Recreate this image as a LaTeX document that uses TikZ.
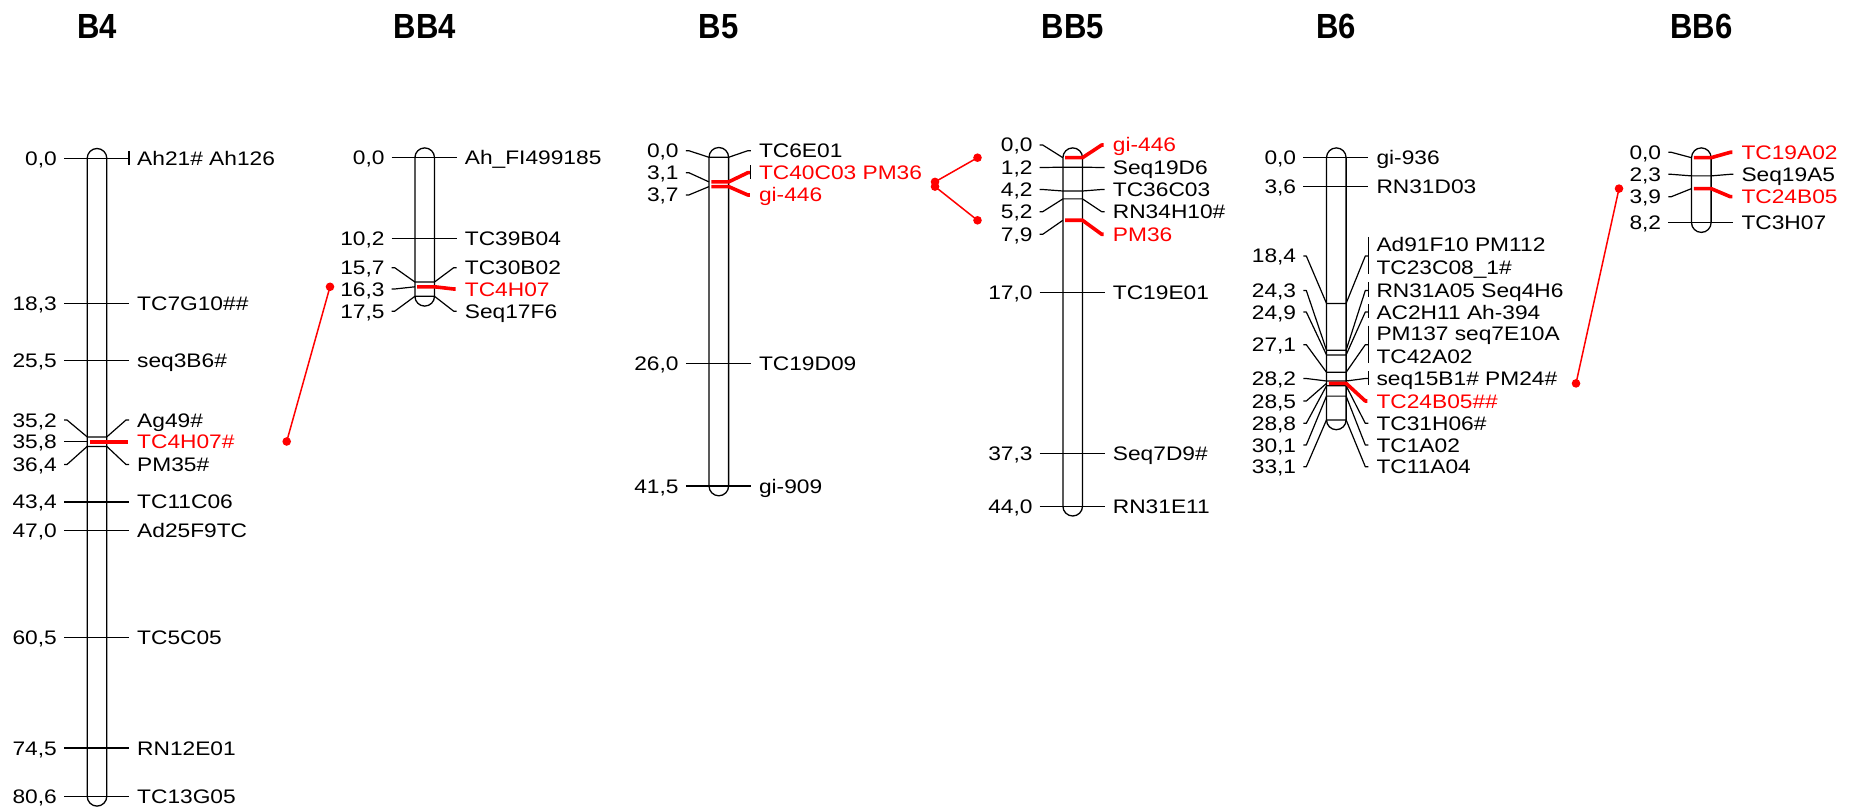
\documentclass[tikz,border=0pt]{standalone}
\usepackage{fontspec}
\setmainfont{Liberation Sans}
\newfontfamily\labfont{Liberation Sans}[FakeStretch=1.16]
\newfontfamily\ttlfont{Liberation Sans}[FakeStretch=0.89]

\tikzset{
  chromline/.style={line width=1.3pt, draw=black},
  tickline/.style={line width=1.2pt, black, line join=round},
  redmark/.style={line width=3.6pt, red, line join=round},
  linkline/.style={line width=1.5pt, red},
  numtxt/.style={anchor=base east, inner sep=0pt, font=\labfont\fontsize{19.6}{20}\selectfont},
  labtxt/.style={anchor=base west, inner sep=0pt, font=\labfont\fontsize{19.6}{20}\selectfont},
  ttltxt/.style={anchor=base, inner sep=0pt, font=\ttlfont\bfseries\fontsize{34.9}{36}\selectfont},
}

% chromosome bar: centre x, top position, bottom position
\newcommand\chromo[3]{%
  \draw[chromline, rounded corners=9.8pt] (#1-9.8,#2-9.8) rectangle (#1+9.8,#3+9.8);}
% marker: centre x, map position, label position, distance, name text, node name
\newcommand\mrk[6]{%
  \draw[tickline] (#1-33,#3) -- (#1-30,#3) -- (#1-9.8,#2) -- (#1+9.8,#2) -- (#1+29,#3) -- (#1+32,#3);
  \node[numtxt] (#6-n) at (#1-40,#3+7) {#4};
  \node[labtxt] (#6) at (#1+40,#3+7) {#5};}
% highlighted marker
\newcommand\mrkred[6]{%
  \draw[tickline] (#1-33,#3) -- (#1-30,#3) -- (#1-9.8,#2);
  \draw[redmark] (#1-7.5,#2) -- (#1+9.8,#2) -- (#1+29,#3) -- (#1+31,#3);
  \node[numtxt] (#6-n) at (#1-40,#3+7) {#4};
  \node[labtxt, text=red] (#6) at (#1+40,#3+7) {#5};}
% marker group whose names take two lines
\newcommand\mrktwo[7]{%
  \draw[tickline] (#1-33,#3) -- (#1-30,#3) -- (#1-9.8,#2) -- (#1+9.8,#2) -- (#1+29,#3) -- (#1+32,#3);
  \draw[tickline] (#1+32,#3-19) -- (#1+32,#3+18);
  \node[numtxt] (#7-n) at (#1-40,#3+7) {#4};
  \node[labtxt] (#7-a) at (#1+40,#3-4.3) {#5};
  \node[labtxt] (#7-b) at (#1+40,#3+18.3) {#6};}
% bar for several markers at one position
\newcommand\grpbar[3]{\draw[tickline] (#1+32,#2) -- (#1+32,#3);}

\begin{document}
\begin{tikzpicture}[x=1pt,y=-1pt]
\useasboundingbox (0,0) rectangle (1857,810);

% titles
\node[ttltxt] (tB4)  at (97,38.8)     {B4};
\node[ttltxt] (tBB4) at (424.7,38.8)  {BB4};
\node[ttltxt] (tB5)  at (718.8,38.8)  {B5};
\node[ttltxt] (tBB5) at (1072.7,38.8) {BB5};
\node[ttltxt] (tB6)  at (1336.3,38.8) {B6};
\node[ttltxt] (tBB6) at (1701.3,38.8) {BB6};

% ---- B4
\chromo{97}{158.3}{796.3}
\mrk{97}{158.3}{158.3}{0,0}{Ah21\# Ah126}{b4a}
\grpbar{97}{151}{165}
\mrk{97}{303.2}{303.2}{18,3}{TC7G10\#\#}{b4b}
\mrk{97}{360.2}{360.2}{25,5}{seq3B6\#}{b4c}
\mrk{97}{436.9}{420}{35,2}{Ag49\#}{b4d}
\mrk{97}{446.4}{464.5}{36,4}{PM35\#}{b4f}
\mrkred{97}{441.7}{441.7}{35,8}{TC4H07\#}{b4e}
\mrk{97}{501.9}{501.9}{43,4}{TC11C06}{b4g}
\mrk{97}{530.4}{530.4}{47,0}{Ad25F9TC}{b4h}
\mrk{97}{637.2}{637.2}{60,5}{TC5C05}{b4i}
\mrk{97}{748.0}{748.0}{74,5}{RN12E01}{b4j}
\mrk{97}{796.3}{796.3}{80,6}{TC13G05}{b4k}

% ---- BB4
\chromo{424.7}{157.7}{296.3}
\mrk{424.7}{157.7}{157.7}{0,0}{Ah\_FI499185}{bb4a}
\mrk{424.7}{238.5}{238.5}{10,2}{TC39B04}{bb4b}
\mrk{424.7}{282.0}{267.7}{15,7}{TC30B02}{bb4c}
\mrk{424.7}{296.3}{311.2}{17,5}{Seq17F6}{bb4e}
\mrkred{424.7}{286.8}{289}{16,3}{TC4H07}{bb4d}

% ---- B5
\chromo{718.8}{157.3}{486.0}
\mrk{718.8}{157.3}{150.7}{0,0}{TC6E01}{b5a}
\mrkred{718.8}{181.9}{172.7}{3,1}{TC40C03 PM36}{b5b}
\grpbar{718.8}{165.5}{179}
\mrkred{718.8}{186.6}{195}{3,7}{gi-446}{b5c}
\mrk{718.8}{363.2}{363.2}{26,0}{TC19D09}{b5d}
\mrk{718.8}{486.0}{486.0}{41,5}{gi-909}{b5e}

% ---- BB5
\chromo{1072.7}{157.7}{506.2}
\mrk{1072.7}{167.2}{167.5}{1,2}{Seq19D6}{bb5b}
\mrk{1072.7}{191.0}{189.5}{4,2}{TC36C03}{bb5c}
\mrk{1072.7}{198.9}{211.7}{5,2}{RN34H10\#}{bb5d}
\mrkred{1072.7}{157.7}{145}{0,0}{gi-446}{bb5a}
\mrkred{1072.7}{220.3}{234.3}{7,9}{PM36}{bb5e}
\mrk{1072.7}{292.3}{292.3}{17,0}{TC19E01}{bb5f}
\mrk{1072.7}{453.1}{453.1}{37,3}{Seq7D9\#}{bb5g}
\mrk{1072.7}{506.2}{506.2}{44,0}{RN31E11}{bb5h}

% ---- B6
\chromo{1336.3}{157.7}{419.9}
\mrk{1336.3}{157.7}{157.7}{0,0}{gi-936}{b6a}
\mrk{1336.3}{186.2}{186.2}{3,6}{RN31D03}{b6b}
\mrktwo{1336.3}{303.4}{256}{18,4}{Ad91F10 PM112}{TC23C08\_1\#}{b6c}
\mrk{1336.3}{350.2}{290.5}{24,3}{RN31A05 Seq4H6}{b6d}
\grpbar{1336.3}{282.5}{296.5}
\mrk{1336.3}{354.9}{312}{24,9}{AC2H11 Ah-394}{b6e}
\grpbar{1336.3}{304}{318}
\mrktwo{1336.3}{372.3}{344.7}{27,1}{PM137 seq7E10A}{TC42A02}{b6f}
\mrk{1336.3}{381.0}{378.5}{28,2}{seq15B1\# PM24\#}{b6g}
\grpbar{1336.3}{371}{385}
\mrk{1336.3}{385.8}{423.3}{28,8}{TC31H06\#}{b6i}
\mrk{1336.3}{396.1}{445}{30,1}{TC1A02}{b6j}
\mrk{1336.3}{419.9}{466.7}{33,1}{TC11A04}{b6k}
\mrkred{1336.3}{383.4}{401}{28,5}{TC24B05\#\#}{b6h}

% ---- BB6
\chromo{1701.3}{157.7}{222.6}
\mrk{1701.3}{175.9}{174.3}{2,3}{Seq19A5}{bb6b}
\mrk{1701.3}{222.6}{222.6}{8,2}{TC3H07}{bb6d}
\mrkred{1701.3}{157.7}{152.3}{0,0}{TC19A02}{bb6a}
\mrkred{1701.3}{188.6}{196.7}{3,9}{TC24B05}{bb6c}

% ---- links between homoeologous markers
\coordinate (b4dot)   at (286.7,441.5);
\coordinate (bb4dot)  at (330,286.8);
\coordinate (b5dotA)  at (935,181.9);
\coordinate (b5dotB)  at (935,186.6);
\coordinate (bb5dotA) at (977.5,157.7);
\coordinate (bb5dotB) at (977.5,220.3);
\coordinate (b6dot)   at (1576,383.4);
\coordinate (bb6dot)  at (1619,188.6);

\draw[linkline] (b4dot) -- (bb4dot);
\draw[linkline] (b5dotA) -- (bb5dotA);
\draw[linkline] (b5dotB) -- (bb5dotB);
\draw[linkline] (b6dot) -- (bb6dot);
\foreach \d in {b4dot,bb4dot,b5dotA,b5dotB,bb5dotA,bb5dotB,b6dot,bb6dot}
  \fill[red] (\d) circle[radius=4.3pt];
\end{tikzpicture}
\end{document}
